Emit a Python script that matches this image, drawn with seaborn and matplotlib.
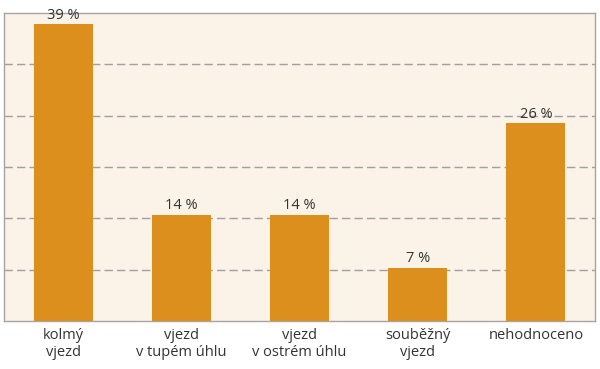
import pandas as pd
import seaborn as sns
import matplotlib.pyplot as plt

# --- dati ---
categories = ["kolmý\nvjezd", "vjezd\nv tupém úhlu", "vjezd\nv ostrém úhlu",
              "souběžný\nvjezd", "nehodnoceno"]
values = [39, 14, 14, 7, 26]
labels = ["39 %", "14 %", "14 %", "7 %", "26 %"]

BAR_COLOR = "#DC8F1C"
BG_COLOR = "#FBF2E8"
TEXT_COLOR = "#333333"

df = pd.DataFrame({"cat": categories, "val": values})

sns.set_theme(style="white")
plt.rcParams['font.family'] = ['Open Sans', 'DejaVu Sans']

fig = plt.figure(figsize=(6, 3.69), dpi=100)
ax = fig.add_axes([4 / 600, 1 - 321 / 369, 591 / 600, 308 / 369])
ax.set_facecolor(BG_COLOR)

sns.barplot(data=df, x="cat", y="val", color=BAR_COLOR, saturation=1,
            width=0.5, linewidth=0, ax=ax, zorder=3)

ax.bar_label(ax.containers[0], labels=labels, padding=1, fontsize=10.5,
             color=TEXT_COLOR, zorder=4)

ax.set_xlim(-0.5, 4.5)
ax.set_ylim(0, 40.5)
ax.set_yticks([6.75 * k for k in range(1, 6)])
ax.set_yticklabels([])
# griglia tratteggiata orizzontale
ax.yaxis.grid(True, linestyle=(0, (6, 3)), color="#A0A0A0", linewidth=1, zorder=1)
ax.tick_params(axis="both", length=0)
ax.tick_params(axis="x", labelsize=10.5, labelcolor=TEXT_COLOR, pad=5)
ax.set_xlabel("")
ax.set_ylabel("")
for s in ax.spines.values():
    s.set_color("#A5A5A5")
    s.set_linewidth(1)

fig.savefig("out.png", dpi=100)
